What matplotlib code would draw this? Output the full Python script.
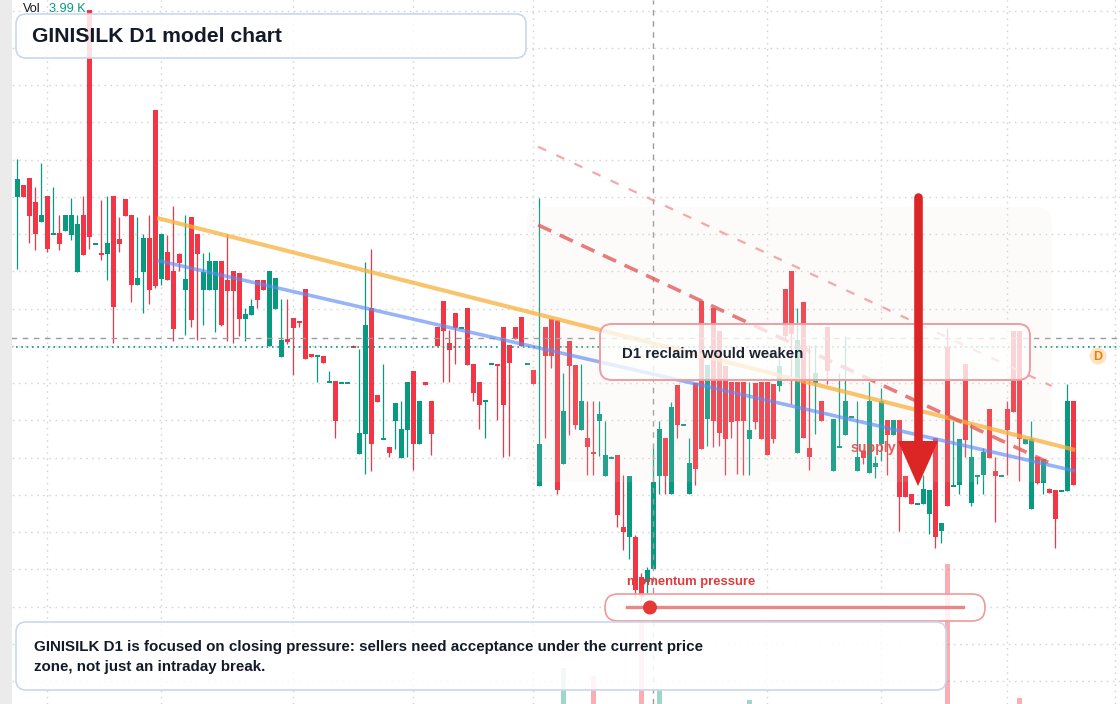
import matplotlib
matplotlib.use('Agg')
import matplotlib.pyplot as plt
from matplotlib.patches import FancyBboxPatch, Rectangle, Polygon, Circle
from matplotlib.transforms import Affine2D

# ---------------- data ----------------
opens = [171.0, 174.5, 176.6, 169.4, 163.5, 171.2, 159.9, 160.1, 160.8, 159.6,
         148.5, 165.5, 227.0, 156.9, 154.5, 153.9, 171.2, 158.3, 170.3, 165.5,
         144.6, 148.5, 158.6, 197.0, 146.4, 154.4, 148.7, 153.8, 143.1, 164.9,
         159.8, 143.1, 143.1, 143.1, 151.7, 146.0, 148.7, 148.1, 134.4, 135.6,
         146.0, 146.0, 126.3, 137.4, 123.0, 128.4, 134.7, 133.8, 143.4, 123.9,
         123.1, 123.3, 115.5, 115.7, 115.2, 115.2, 126.5, 93.9, 99.9, 137.7,
         111.6, 98.4, 96.0, 103.8, 92.7, 101.1, 118.8, 96.9, 115.5, 109.8,
         132.0, 139.8, 127.2, 136.2, 131.7, 137.7, 120.9, 115.5, 109.6, 120.7,
         120.8, 132.0, 126.6, 132.0, 135.0, 120.7, 119.1, 84.3, 132.0, 134.4,
         134.1, 90.9, 127.8, 120.6, 101.1, 98.7, 94.2, 103.8, 87.3, 92.7,
         93.6, 72.0, 69.0, 69.0, 57.0, 55.5, 59.4, 87.3, 98.7, 81.9,
         114.5, 102.6, 81.9, 115.1, 139.8, 104.4, 137.7, 130.8, 120.3, 115.5,
         115.5, 115.5, 98.4, 115.2, 115.5, 115.5, 114.9, 114.3, 143.4, 148.8,
         94.2, 139.5, 95.7, 115.2, 109.8, 132.0, 88.8, 96.0, 99.6, 105.0,
         88.8, 94.8, 88.2, 90.0, 96.9, 104.1, 99.6, 104.1, 87.3, 81.9,
         78.9, 78.9, 75.9, 98.7, 70.8, 126.0, 84.3, 84.6, 120.9, 79.2,
         87.3, 87.6, 107.4, 88.8, 87.3, 107.4, 130.8, 130.8, 96.9, 77.4,
         93.0, 85.2, 83.4, 83.1, 82.8, 82.8, 109.8]
closes = [176.3, 171.0, 165.3, 159.9, 165.5, 155.4, 160.1, 156.9, 165.5, 165.5,
          162.8, 153.6, 159.0, 157.1, 153.9, 157.0, 138.0, 156.9, 165.3, 144.6,
          146.6, 158.6, 143.1, 144.3, 159.8, 146.1, 131.4, 151.2, 146.3, 134.1,
          153.9, 148.4, 151.7, 151.7, 132.6, 142.8, 142.8, 134.4, 135.9, 138.3,
          140.1, 143.1, 148.7, 146.6, 128.1, 127.5, 131.7, 133.5, 122.4, 123.0,
          123.2, 121.2, 115.6, 103.8, 115.3, 115.3, 126.0, 100.2, 132.6, 96.9,
          109.5, 99.0, 94.2, 109.2, 101.4, 115.5, 96.9, 109.8, 114.6, 99.9,
          126.3, 130.8, 125.1, 131.7, 131.8, 120.6, 112.2, 108.6, 109.7, 120.8,
          120.6, 108.6, 121.2, 128.4, 126.3, 120.8, 114.9, 96.9, 123.3, 123.3,
          83.1, 106.8, 120.3, 102.6, 109.8, 96.0, 94.0, 105.9, 93.6, 93.3,
          75.6, 70.5, 87.3, 53.0, 51.0, 59.0, 85.4, 101.3, 87.3, 108.0,
          102.6, 102.9, 91.2, 89.4, 95.4, 120.6, 103.8, 100.2, 98.4, 103.5,
          103.8, 103.8, 101.1, 103.5, 98.4, 93.6, 98.4, 120.3, 129.3, 129.9,
          128.1, 98.7, 93.0, 118.2, 103.8, 118.8, 104.4, 96.3, 109.8, 105.3,
          93.0, 92.7, 109.8, 91.2, 109.8, 99.6, 104.1, 81.0, 81.0, 78.9,
          79.2, 83.4, 83.1, 69.0, 73.2, 78.3, 84.8, 98.4, 98.1, 93.0,
          87.6, 94.5, 92.7, 87.3, 87.6, 101.1, 106.5, 98.4, 98.4, 98.4,
          85.2, 92.4, 82.2, 74.4, 83.1, 109.8, 84.6]
highs = [182.2, 174.5, 176.6, 173.9, 181.1, 171.2, 173.9, 165.5, 165.5, 170.6,
         165.5, 171.2, 227.0, 157.1, 170.0, 171.2, 171.2, 164.9, 170.3, 165.5,
         164.9, 159.8, 165.5, 197.0, 159.8, 159.5, 168.2, 154.1, 165.5, 164.9,
         159.8, 154.1, 154.4, 151.7, 151.7, 159.8, 148.7, 148.1, 137.7, 140.4,
         146.0, 146.0, 148.7, 146.6, 140.4, 140.4, 134.7, 133.8, 143.4, 123.9,
         123.2, 123.3, 118.8, 115.7, 115.3, 115.3, 126.5, 125.4, 151.5, 155.4,
         111.6, 120.9, 96.0, 109.2, 109.8, 115.5, 118.8, 109.8, 115.5, 109.8,
         132.0, 139.8, 131.1, 136.2, 131.8, 137.7, 120.9, 115.5, 109.7, 120.8,
         120.8, 132.0, 126.6, 132.0, 135.0, 120.8, 119.1, 170.7, 132.0, 134.4,
         134.1, 118.2, 127.8, 120.6, 120.9, 109.8, 109.8, 109.8, 103.8, 93.3,
         93.6, 87.6, 87.3, 69.6, 58.0, 60.0, 95.7, 103.8, 98.7, 109.5,
         114.5, 102.9, 98.7, 115.1, 139.8, 120.6, 137.7, 130.8, 120.3, 115.5,
         115.5, 115.5, 115.5, 115.2, 115.5, 115.5, 114.9, 122.4, 143.4, 148.8,
         137.7, 139.5, 126.6, 126.6, 109.8, 132.0, 104.4, 118.2, 129.3, 105.3,
         109.8, 94.8, 115.5, 93.3, 113.7, 104.1, 104.1, 104.1, 87.3, 81.9,
         79.2, 87.6, 83.1, 98.7, 73.2, 131.7, 103.8, 98.4, 120.9, 103.2,
         87.6, 95.7, 107.4, 93.0, 87.6, 109.8, 130.8, 130.8, 98.4, 103.8,
         93.0, 92.4, 83.7, 83.1, 83.1, 114.9, 109.8]
lows = [149.3, 171.0, 157.2, 155.1, 163.5, 154.5, 159.9, 155.1, 160.8, 158.1,
        148.5, 153.6, 155.4, 156.9, 152.1, 146.1, 127.2, 154.5, 165.3, 139.5,
        144.6, 136.2, 138.9, 143.7, 144.6, 146.1, 127.8, 148.8, 129.6, 132.0,
        128.1, 132.6, 143.1, 130.5, 132.3, 127.8, 127.2, 129.3, 127.8, 135.6,
        137.7, 143.1, 126.3, 137.4, 123.0, 126.9, 117.6, 132.0, 122.4, 123.0,
        115.5, 121.2, 115.5, 98.7, 115.2, 115.2, 126.0, 93.9, 87.9, 88.8,
        109.5, 98.4, 93.0, 95.4, 92.7, 93.0, 89.1, 96.9, 114.6, 93.6,
        126.3, 115.5, 115.5, 120.9, 131.7, 120.6, 109.8, 101.4, 98.7, 120.7,
        104.1, 93.0, 93.3, 128.4, 126.3, 120.7, 114.9, 84.3, 98.7, 119.7,
        81.9, 90.9, 99.6, 101.4, 101.1, 87.6, 87.6, 93.3, 87.3, 92.7,
        72.0, 65.1, 62.4, 50.6, 50.0, 52.0, 59.4, 81.9, 81.9, 81.9,
        98.7, 102.6, 81.9, 84.6, 95.4, 96.3, 96.0, 96.3, 87.6, 98.7,
        87.9, 87.6, 87.6, 101.4, 98.4, 93.6, 97.2, 112.8, 128.4, 108.9,
        94.2, 98.7, 89.1, 99.9, 103.8, 114.9, 88.8, 96.0, 99.6, 105.0,
        88.8, 90.9, 88.2, 86.7, 91.8, 87.6, 99.6, 70.8, 81.0, 78.9,
        78.9, 78.9, 69.9, 65.7, 67.2, 78.3, 84.3, 81.9, 93.0, 78.3,
        84.9, 81.9, 92.7, 73.5, 87.3, 87.6, 106.5, 85.8, 96.9, 77.4,
        84.9, 81.9, 82.2, 65.7, 82.8, 82.8, 84.6]
# volume in thousands (most bars are tiny and sit below the visible edge)
volume = [2.1, 1.8, 2.4, 1.6, 2.2, 1.9, 2.5, 1.7, 2.0, 2.3,
          1.8, 2.6, 3.1, 1.5, 2.2, 1.9, 2.7, 1.6, 2.0, 2.4,
          1.8, 2.1, 2.3, 3.0, 1.7, 2.0, 2.5, 1.6, 2.2, 2.4,
          1.9, 2.1, 1.8, 2.0, 2.6, 1.7, 2.3, 2.2, 1.5, 1.8,
          1.9, 1.6, 2.5, 1.9, 2.2, 1.7, 2.4, 1.5, 2.8, 1.6,
          1.7, 1.8, 1.6, 2.6, 1.5, 1.5, 1.7, 2.4, 3.2, 3.4,
          1.8, 2.0, 1.6, 2.1, 2.3, 2.5, 2.6, 2.0, 1.6, 2.2,
          1.9, 2.3, 1.8, 2.0, 1.5, 2.4, 2.1, 1.9, 1.6, 1.5,
          1.7, 2.6, 2.2, 1.8, 2.0, 1.5, 1.8, 3.6, 2.1, 1.9,
          3.8, 40.0, 2.4, 2.6, 2.2, 2.5, 32.0, 2.0, 2.3, 1.7,
          3.4, 2.8, 3.6, 3.9, 88.0, 3.0, 3.8, 18.0, 2.4, 3.0,
          2.2, 1.6, 2.5, 2.9, 3.3, 2.6, 3.1, 2.7, 2.4, 2.2,
          2.3, 2.4, 8.0, 2.0, 2.2, 2.6, 2.1, 1.9, 2.4, 2.9,
          3.0, 2.8, 2.2, 2.1, 1.9, 2.3, 2.5, 1.7, 2.4, 1.6,
          2.1, 1.8, 2.6, 1.7, 2.4, 2.0, 1.9, 3.2, 2.0, 1.8,
          1.6, 2.0, 2.4, 3.1, 2.2, 144.0, 1.8, 2.3, 2.9, 2.5,
          1.7, 2.1, 2.2, 2.6, 1.6, 2.3, 2.8, 10.0, 1.8, 2.7,
          2.1, 2.3, 1.7, 2.9, 1.6, 3.3, 3.99]

# overlays (price units)
orange_line = ((23.3, 164.6), (176.3, 95.0))
blue_line = ((23.3, 151.9), (176.3, 88.7))
red_channel_low = ((86.8, 162.5), (172.4, 90.8))
red_channel_high = ((86.8, 186.0), (172.4, 114.2))
zone_x = (84.9, 172.4)
zone_y = (85.4, 167.9)
crosshair_x = 106
crosshair_y = 128.5
last_price_line = 125.8
grid_top = 226.8
grid_step = 11.175
vgrid = [5, 24, 46, 66, 86, 125, 144, 165, 183]

UP = '#089981'
DOWN = '#f23645'
W, H = 1120, 704
FONT = 'Liberation Sans'

fig = plt.figure(figsize=(W / 100, H / 100), dpi=100)
fig.patch.set_facecolor('white')
ax = fig.add_axes([0, 0, 1, 1])
ax.set_xlim(-2.883, 183.78)
ax.set_ylim(18.8, 230)
ax.axis('off')

# pixel-space transform for annotations (origin top-left)
px = Affine2D().scale(1 / W, -1 / H).translate(0, 1) + fig.transFigure

# grid
k = 0
while grid_top - k * grid_step > 18.8:
    ax.axhline(grid_top - k * grid_step, color='#d6d6d6', lw=1.0,
               ls=(0, (1.2, 3.2)), zorder=0)
    k += 1
for gx in vgrid:
    ax.axvline(gx, color='#d6d6d6', lw=1.0, ls=(0, (1.2, 3.2)), zorder=0)

# volume (overlay, bottom)
vax = ax.twinx()
vax.set_ylim(4, 708)
vax.axis('off')
n = len(opens)
xs = list(range(n))
vcols = [UP if closes[i] >= opens[i] else DOWN for i in xs]
vax.bar(xs, volume, width=0.78, color=vcols, alpha=0.4, zorder=1)

# candles
for i in xs:
    o, h, l, c = opens[i], highs[i], lows[i], closes[i]
    col = UP if c >= o else DOWN
    ax.vlines(i, l, h, color=col, lw=0.9, zorder=3)
    bot = min(o, c)
    hgt = max(abs(c - o), 0.6)
    ax.bar(i, hgt, bottom=bot - (0.3 if abs(c - o) < 0.6 else 0), width=0.78,
           color=col, zorder=4, linewidth=0)

# crosshair & price line
ax.axvline(crosshair_x, color='#9a9a9a', lw=1.0, ls=(0, (4, 4)), zorder=5)
ax.axhline(crosshair_y, color='#9a9a9a', lw=1.0, ls=(0, (4, 4)), zorder=5)
ax.axhline(last_price_line, color=UP, lw=1.2, ls=(0, (1, 2.2)), zorder=5)

# shaded zone
zone = FancyBboxPatch((zone_x[0], zone_y[0]), zone_x[1] - zone_x[0],
                      zone_y[1] - zone_y[0],
                      boxstyle='round,pad=0,rounding_size=2.5',
                      mutation_aspect=1.6, fc='#f1e4d8', ec='none',
                      alpha=0.12, zorder=6)
ax.add_patch(zone)

# trend lines
ax.plot(*zip(*orange_line), color='#f8b13e', lw=3.0, alpha=0.75,
        solid_capstyle='butt', zorder=7)
ax.plot(*zip(*blue_line), color='#5e8cf2', lw=2.6, alpha=0.65,
        solid_capstyle='butt', zorder=7)
ax.plot(*zip(*red_channel_low), color='#e25c5c', lw=2.6, alpha=0.8,
        ls=(0, (4, 2.6)), zorder=7)
ax.plot(*zip(*red_channel_high), color='#f29a9a', lw=1.6, alpha=0.85,
        ls=(0, (4, 5)), zorder=7)

# left strip
fig.add_artist(Rectangle((0, 0), 12, H, transform=px, fc='#ebebeb', ec='none',
                         zorder=2))


def box(x, y, w, h, ec, fa=0.8, lw=1.0, r=10, z=10):
    p = FancyBboxPatch((x, y), w, h, boxstyle=f'round,pad=0,rounding_size={r}',
                       transform=px, fc=(1, 1, 1, fa), ec=ec, lw=lw, zorder=z)
    fig.add_artist(p)


# D1 reclaim box
box(600, 324, 430, 56, ec='#ef9ca2', fa=0.77, lw=1.4, r=12)
fig.text(622 / W, 1 - 354 / H, 'D1 reclaim would weaken', fontsize=10.8,
         fontweight='bold', color='#1b2230', va='center', ha='left',
         family=FONT, zorder=11)

# supply label + arrow
fig.text(851 / W, 1 - 448 / H, 'supply', fontsize=10.2, fontweight='bold',
         color='#e34b4b', va='center', ha='left', family=FONT, zorder=11,
         alpha=0.9)
fig.add_artist(plt.Line2D([918, 918], [197, 445], transform=px, lw=6.2,
                          color='#dc2626', solid_capstyle='round', zorder=12))
fig.add_artist(Polygon([(898, 441), (938, 441), (918, 486)], closed=True,
                       transform=px, fc='#dc2626', ec='none', zorder=12))

# momentum slider
fig.text(627 / W, 1 - 582 / H, 'momentum pressure', fontsize=9.4,
         fontweight='bold', color='#e03a3a', va='center', ha='left',
         family=FONT, zorder=11)
box(605, 594, 380, 27, ec='#f09a9a', fa=0.85, lw=1.2, r=13)
fig.add_artist(plt.Line2D([627, 963], [607, 607], transform=px, lw=2.4,
                          color='#e57373', alpha=0.85, zorder=12))
fig.add_artist(Circle((650, 607.5), 7, transform=px, fc='#e53935', ec='none',
                      zorder=13))

# title box
box(16, 14, 510, 44, ec='#c9d7ef', fa=0.85, lw=1.2, r=10)
fig.text(32 / W, 1 - 36 / H, 'GINISILK D1 model chart', fontsize=15.2,
         fontweight='bold', color='#131a2a', va='center', ha='left',
         family=FONT, zorder=11)

# bottom note box
box(16, 622, 930, 68, ec='#c9d7ef', fa=0.88, lw=1.2, r=10)
fig.text(34 / W, 1 - 647 / H,
         'GINISILK D1 is focused on closing pressure: sellers need acceptance under the current price',
         fontsize=10.9, fontweight='bold', color='#131a2a', va='center',
         ha='left', family=FONT, zorder=11)
fig.text(34 / W, 1 - 667 / H, 'zone, not just an intraday break.',
         fontsize=10.9, fontweight='bold', color='#131a2a', va='center',
         ha='left', family=FONT, zorder=11)

# volume legend
fig.text(23 / W, 1 - 9 / H, 'Vol', fontsize=9.2, color='#131722',
         va='center', ha='left', family=FONT, zorder=11)
fig.text(49 / W, 1 - 9 / H, '3.99 K', fontsize=9.2, color=UP,
         va='center', ha='left', family=FONT, zorder=11)

# D badge
fig.add_artist(Circle((1098, 356), 8.5, transform=px, fc='#fde4c4',
                      ec='none', zorder=11))
fig.text(1098 / W, 1 - 356.5 / H, 'D', fontsize=9, fontweight='bold',
         color='#f57c00', va='center', ha='center', family=FONT, zorder=12)

fig.savefig('out.png', dpi=100)
